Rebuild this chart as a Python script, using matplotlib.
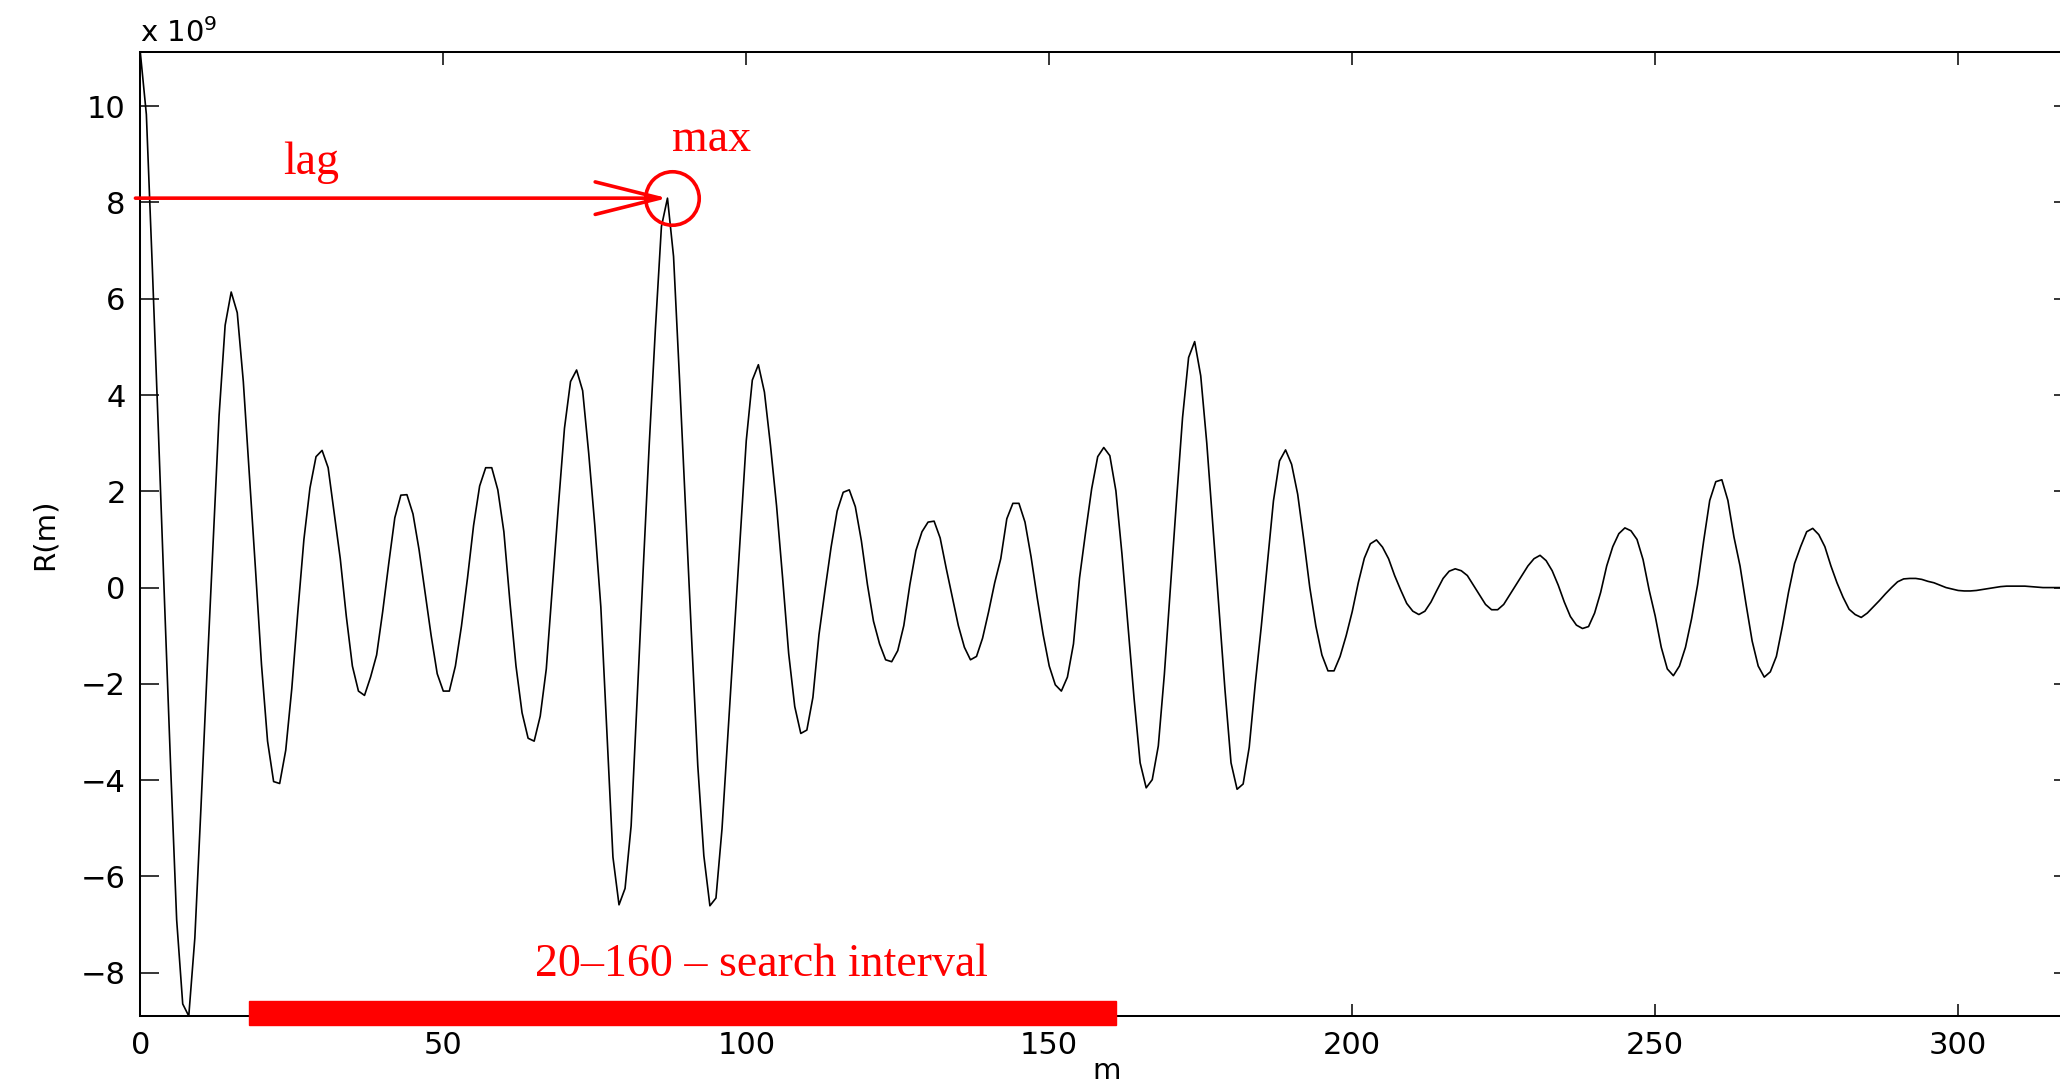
import numpy as np
import matplotlib
matplotlib.use('Agg')
import matplotlib.pyplot as plt
from matplotlib.patches import Rectangle, ArrowStyle

# autocorrelation R(m), units of 1e9
r_vals = [
    11.12, 9.83, 6.6, 3.2, -0.3, -3.7, -6.9, -8.65, -8.9, -7.28,
    -4.6, -1.8, 0.9, 3.57, 5.45, 6.14, 5.71, 4.28, 2.35, 0.4,
    -1.6, -3.19, -4.03, -4.07, -3.38, -2.1, -0.5, 1.0, 2.07, 2.72,
    2.85, 2.49, 1.55, 0.6, -0.6, -1.63, -2.15, -2.24, -1.86, -1.4,
    -0.5, 0.5, 1.45, 1.92, 1.93, 1.53, 0.79, -0.1, -1.0, -1.79,
    -2.15, -2.15, -1.63, -0.8, 0.2, 1.29, 2.11, 2.49, 2.49, 2.03,
    1.16, -0.3, -1.63, -2.6, -3.13, -3.19, -2.67, -1.69, 0.0, 1.7,
    3.31, 4.28, 4.52, 4.09, 2.79, 1.3, -0.4, -3.0, -5.6, -6.59,
    -6.25, -4.95, -2.3, 0.4, 3.0, 5.36, 7.5, 8.09, 6.88, 4.3,
    1.6, -1.1, -3.7, -5.57, -6.61, -6.45, -5.01, -3.0, -1.0, 1.05,
    3.05, 4.31, 4.63, 4.06, 2.95, 1.7, 0.2, -1.37, -2.47, -3.03,
    -2.96, -2.28, -0.98, -0.05, 0.84, 1.59, 1.98, 2.03, 1.68, 0.97,
    0.06, -0.7, -1.17, -1.5, -1.54, -1.31, -0.79, 0.06, 0.77, 1.16,
    1.36, 1.38, 1.03, 0.4, -0.2, -0.79, -1.24, -1.5, -1.43, -1.05,
    -0.5, 0.1, 0.6, 1.43, 1.75, 1.75, 1.36, 0.64, -0.2, -0.98,
    -1.63, -2.02, -2.15, -1.86, -1.17, 0.2, 1.15, 2.05, 2.72, 2.91,
    2.74, 2.01, 0.7, -0.8, -2.3, -3.64, -4.16, -3.99, -3.29, -1.8,
    0.0, 1.8, 3.53, 4.78, 5.11, 4.4, 3.0, 1.3, -0.4, -2.12,
    -3.64, -4.19, -4.08, -3.32, -2.0, -0.8, 0.5, 1.8, 2.63, 2.86,
    2.56, 1.94, 1.0, 0.0, -0.8, -1.4, -1.73, -1.73, -1.43, -1.0,
    -0.5, 0.1, 0.61, 0.91, 0.99, 0.84, 0.6, 0.25, -0.05, -0.33,
    -0.49, -0.56, -0.49, -0.3, -0.05, 0.19, 0.34, 0.39, 0.35, 0.25,
    0.05, -0.15, -0.35, -0.46, -0.46, -0.35, -0.15, 0.05, 0.25, 0.45,
    0.6, 0.67, 0.56, 0.35, 0.05, -0.3, -0.6, -0.78, -0.85, -0.81,
    -0.53, -0.1, 0.45, 0.85, 1.12, 1.24, 1.18, 1.0, 0.58, -0.05,
    -0.59, -1.24, -1.69, -1.83, -1.63, -1.24, -0.65, 0.06, 0.97, 1.81,
    2.2, 2.24, 1.81, 1.05, 0.45, -0.35, -1.11, -1.63, -1.86, -1.75,
    -1.43, -0.8, -0.1, 0.5, 0.85, 1.16, 1.23, 1.1, 0.85, 0.45,
    0.1, -0.2, -0.45, -0.56, -0.62, -0.53, -0.4, -0.27, -0.13, 0.0,
    0.12, 0.18, 0.19, 0.19, 0.17, 0.13, 0.1, 0.05, 0.0, -0.03,
    -0.06, -0.07, -0.07, -0.06, -0.04, -0.02, 0.0, 0.02, 0.03, 0.03,
    0.03, 0.03, 0.02, 0.01, 0.0, 0.0, 0.0, 0.0, 0.0, 0.0,
]
lag = 87
search_lo = 18
search_hi = 161
x_ticks = [0, 50, 100, 150, 200, 250, 300]
y_ticks = [-8, -6, -4, -2, 0, 2, 4, 6, 8, 10]

r = np.array(r_vals)
m = np.arange(len(r))

W, H = 2060, 1083
fig = plt.figure(figsize=(W / 100, H / 100), dpi=100)
ax = fig.add_axes([140.3 / W, 67 / H, 1933 / W, 963.7 / H])

ax.plot(m, r, color='k', lw=1.2, clip_on=False)
ax.set_xlim(0, len(r) - 1)
ax.set_ylim(r.min(), r.max())
ax.set_xticks(x_ticks)
ax.set_yticks(y_ticks)

for s in ax.spines.values():
    s.set_linewidth(1.45)
ax.tick_params(direction='in', top=True, right=True, labelsize=22, width=1.1, pad=10.5)
ax.tick_params(axis='y', length=13.7)
ax.tick_params(axis='x', length=9)

ax.text(0, 1.0107, 'x 10$^{9}$', transform=ax.transAxes, fontsize=21, ha='left', va='baseline')
ax.set_ylabel('R(m)', fontsize=21)
ax.yaxis.set_label_coords(-0.042, 0.5)
ax.set_xlabel('m', fontsize=21)
ax.xaxis.set_label_coords(0.5, -0.043)

# annotations in red
red_font = dict(family='Liberation Serif', fontsize=33, color='red')
ax.annotate('', xy=(lag, r[lag]), xytext=(-0.8, r[lag]),
            arrowprops=dict(arrowstyle=ArrowStyle('->', head_length=46.7, head_width=11.7),
                            mutation_scale=1, color='red', lw=2.6, shrinkA=0, shrinkB=0),
            annotation_clip=False)
ax.plot(lag + 0.8, r[lag], 'o', ms=38.5, mfc='none', mec='red', mew=2.6, clip_on=False)
ax.text(28.2, 8.6, 'lag', ha='center', va='baseline', **red_font)
ax.text(87.7, 9.06, 'max', ha='left', va='baseline', **red_font)
ax.text(65.2, -8.06, '20\u2013160 \u2013 search interval', ha='left', va='baseline', **red_font)
ax.add_patch(Rectangle((search_lo, -9.08), search_hi - search_lo, 0.5,
                       color='red', clip_on=False, zorder=3))

fig.savefig('out.png', dpi=100)
